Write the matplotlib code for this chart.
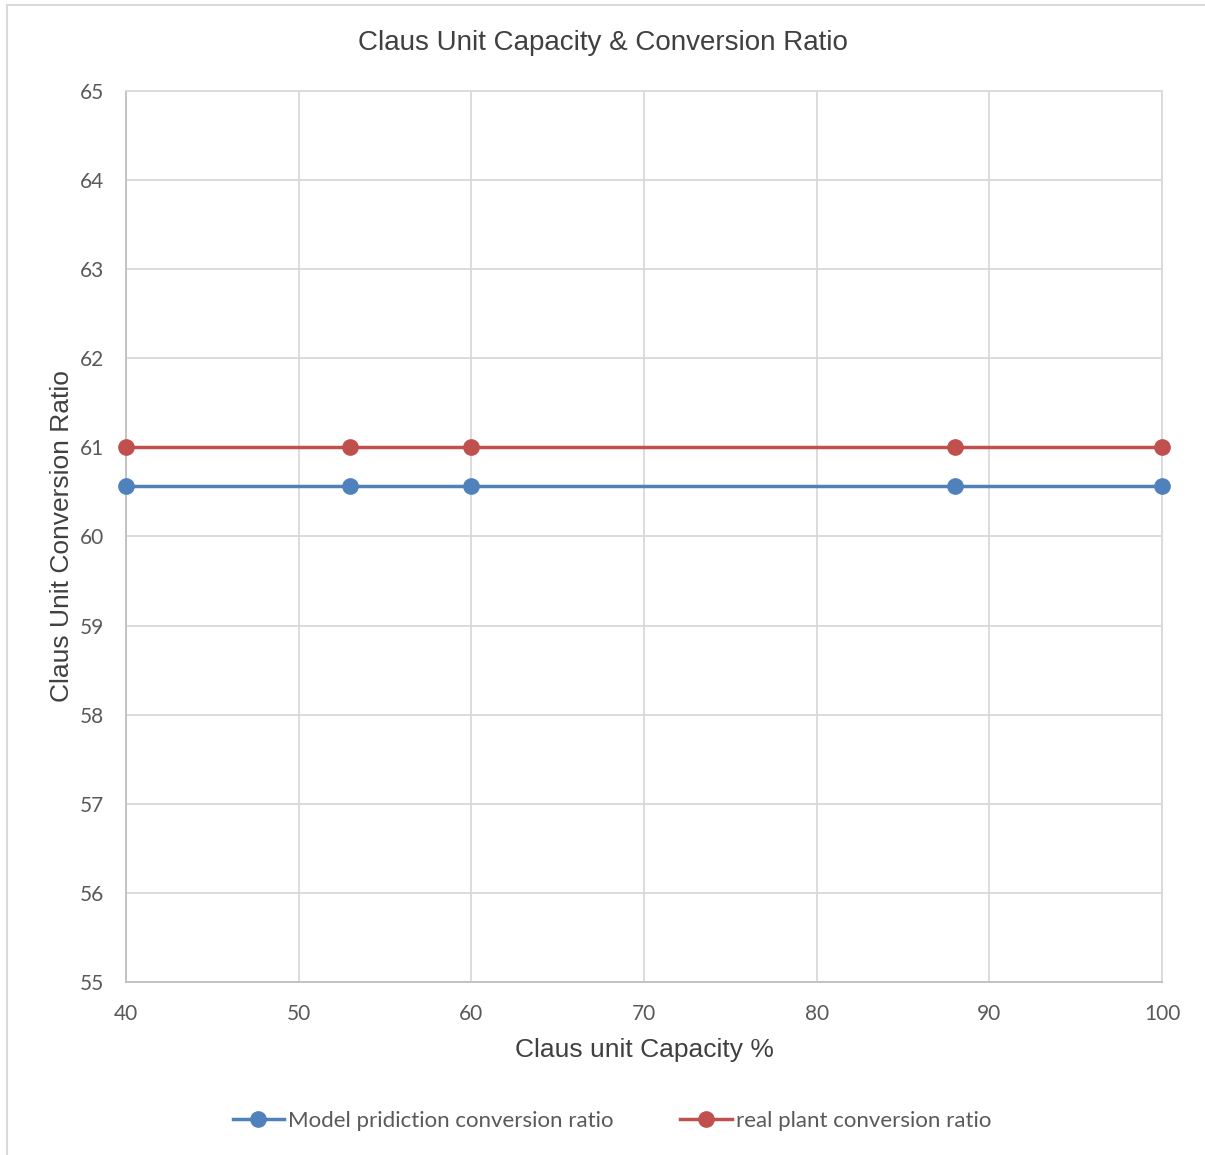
import matplotlib.pyplot as plt
from matplotlib.patches import Rectangle

# Claus unit data
capacity = [40, 53, 60, 88, 100]
model_ratio = [60.57, 60.57, 60.57, 60.57, 60.57]
plant_ratio = [61.0, 61.0, 61.0, 61.0, 61.0]

x_ticks = [40, 50, 60, 70, 80, 90, 100]
y_ticks = [55, 56, 57, 58, 59, 60, 61, 62, 63, 64, 65]

fig = plt.figure(figsize=(12.05, 11.55), dpi=100)
fig.patches.append(Rectangle((7 / 1205, -0.1), 1.2, 1 - 5 / 1155 + 0.1,
                             transform=fig.transFigure, fill=False,
                             edgecolor='#d9d9d9', linewidth=1.5))

ax = fig.add_axes([126 / 1205, 1 - 982 / 1155, (1162 - 126) / 1205, (982 - 91) / 1155])

ax.plot(capacity, model_ratio, color='#4f81bd', linewidth=2.5, marker='o',
        markersize=11, label='Model pridiction conversion ratio', zorder=3, clip_on=False)
ax.plot(capacity, plant_ratio, color='#c0504d', linewidth=2.5, marker='o',
        markersize=11, label='real plant conversion ratio', zorder=3, clip_on=False)

ax.set_xlim(40, 100)
ax.set_ylim(55, 65)
ax.set_xticks(x_ticks)
ax.set_yticks(y_ticks)
ax.grid(True, color='#d9d9d9', linewidth=1.3)
ax.set_axisbelow(True)
for s in ax.spines.values():
    s.set_color('#d9d9d9')
    s.set_linewidth(1.3)
ax.spines['left'].set_color('#bfbfbf')
ax.spines['bottom'].set_color('#bfbfbf')
ax.tick_params(length=0, labelsize=15, labelcolor='#595959')
ax.tick_params(axis='x', pad=16)
ax.tick_params(axis='y', pad=16)
for lab in ax.get_xticklabels() + ax.get_yticklabels():
    lab.set_family('Lato')

fig.text(0.5, 1 - 43 / 1155, 'Claus Unit Capacity & Conversion Ratio', ha='center', va='center',
         fontsize=20, color='#404040', family='Liberation Sans')
ax.set_xlabel('Claus unit Capacity %', fontsize=19, color='#404040', family='Liberation Sans', labelpad=10)
ax.set_ylabel('Claus Unit Conversion Ratio', fontsize=19, color='#404040', family='Liberation Sans', labelpad=4)

leg = fig.legend(loc='center', bbox_to_anchor=(612 / 1205, 1 - 1121 / 1155), ncol=2, frameon=False,
                 prop={'family': 'Lato', 'size': 16}, handlelength=2.3, handletextpad=0.2,
                 columnspacing=3.0)
for t in leg.get_texts():
    t.set_color('#595959')

fig.savefig('out.png', dpi=100)
